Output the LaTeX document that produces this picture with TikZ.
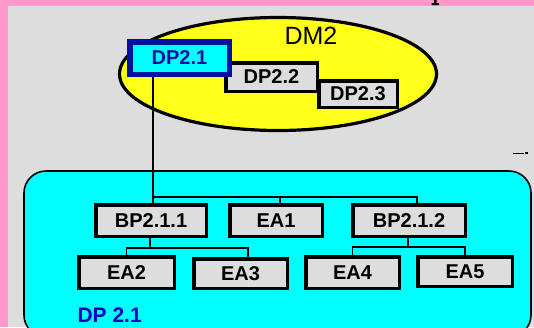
\documentclass[tikz,border=0pt]{standalone}
\usepackage{fontspec}
\setmainfont{Liberation Sans}
\usetikzlibrary{shapes.geometric}
\definecolor{framepink}{RGB}{255,153,204}
\definecolor{panelgray}{RGB}{221,221,221}
\definecolor{boxgray}{RGB}{221,221,221}
\definecolor{dmyellow}{RGB}{255,255,25}
\definecolor{dpcyan}{RGB}{0,255,255}
\definecolor{dpblue}{RGB}{0,16,160}
\definecolor{labelblue}{RGB}{0,0,200}
\begin{document}
\begin{tikzpicture}[x=1pt,y=-1pt,
  box/.style={draw=black, line width=3.5pt, fill=boxgray, inner sep=0pt,
    font=\fontsize{20}{20}\selectfont\bfseries},
  link/.style={draw=black, line width=1.8pt},
  stem/.style={draw=black, line width=2.8pt}]
  \useasboundingbox (0,0) rectangle (534,327);
  \clip (0,0) rectangle (534,327);

  % page frame and grey panel
  \fill[framepink] (0,0) rectangle (534,327);
  \fill[panelgray] (8,6) rectangle (534,327);
  % remnants of neighbouring marks
  \fill[black] (434,0) rectangle (436.5,4) (431.5,3) rectangle (439,5);
  \draw[black, line width=1pt] (513,153) -- (524,153);
  \draw[black, line width=1.6pt] (525,153) -- (528,153);

  % design matrix DM2
  \node[draw=black, line width=3.2pt, fill=dmyellow, ellipse,
        minimum width=317pt, minimum height=113pt, inner sep=0pt] (dm2) at (278,74) {};
  \node[font=\fontsize{25}{25}\selectfont] (dm2label) at (311,36) {DM2};

  % lower-level design parameters
  \node[box, minimum width=91.5pt, minimum height=28.5pt] (dp22) at (271.5,77) {DP2.2};
  \node[box, minimum width=78.5pt, minimum height=26.5pt] (dp23) at (358,94) {DP2.3};
  \node[box, draw=dpblue, line width=5.5pt, fill=dpcyan, text=dpblue,
        minimum width=99.5pt, minimum height=32.5pt] (dp21) at (179.5,58) {DP2.1};

  % decomposition of DP2.1
  \node[draw=black, line width=1.6pt, fill=dpcyan, rounded corners=22pt,
        minimum width=507pt, minimum height=166pt, inner sep=0pt] (dp21box) at (277.5,254) {};
  \node[font=\fontsize{21}{21}\selectfont\bfseries, text=labelblue, anchor=west]
        (dp21label) at (74,315) {DP 2.1};

  \node[box, minimum width=110.5pt, minimum height=31.5pt] (bp211) at (151,220.5) {BP2.1.1};
  \node[box, minimum width=92.5pt,  minimum height=31.5pt] (ea1)   at (276,220.5) {EA1};
  \node[box, minimum width=112.5pt, minimum height=31.5pt] (bp212) at (409,220.5) {BP2.1.2};
  \node[box, minimum width=95.5pt,  minimum height=31.5pt] (ea2)   at (126.5,272.5) {EA2};
  \node[box, minimum width=93.5pt,  minimum height=29.5pt] (ea3)   at (240.5,273.5) {EA3};
  \node[box, minimum width=93.5pt,  minimum height=31.5pt] (ea4)   at (352.5,272.5) {EA4};
  \node[box, minimum width=94.5pt,  minimum height=29.5pt] (ea5)   at (465,271.5) {EA5};

  % connectors
  \coordinate (j0) at (153,197);
  \coordinate (j1) at (280,197);
  \coordinate (j2) at (417,197);
  \coordinate (m1) at (150,248);
  \coordinate (m2) at (408,247);
  \draw[stem] (j0 |- dp21.south) -- (j0 |- dp21box.north);
  \draw[link] (j0 |- dp21box.north) -- (j0 |- bp211.north);
  \draw[link] (j0) -- (j2) -- (j2 |- bp212.north);
  \draw[link] (j1) -- (j1 |- ea1.north);
  \draw[link] (m1 |- bp211.south) -- (m1);
  \draw[link] (ea2.north) |- (m1) -| ([xshift=7.5pt]ea3.north);
  \draw[link] (m2 |- bp212.south) -- (m2);
  \draw[link] (ea4.north) |- (m2) -| (ea5.north);
\end{tikzpicture}
\end{document}
